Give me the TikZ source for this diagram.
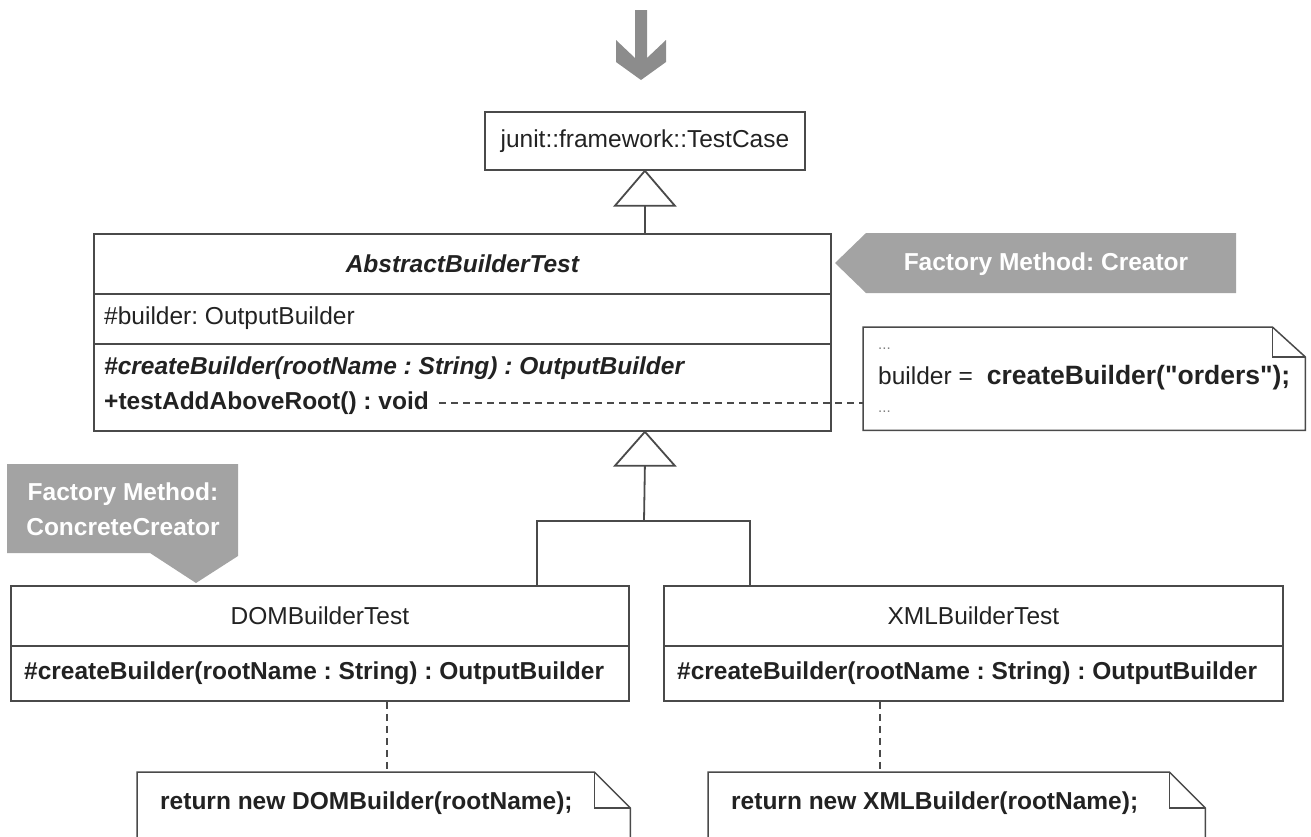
\documentclass[tikz,border=0pt]{standalone}
\usepackage{fontspec}
\setmainfont{Liberation Sans}
\newfontfamily\plainq{Liberation Sans}[Ligatures=TeXOff]
\usetikzlibrary{calc}
\definecolor{linec}{HTML}{4A4A4A}
\definecolor{tagc}{HTML}{A3A3A3}
\definecolor{arrc}{HTML}{8C8C8C}
\definecolor{txtc}{HTML}{222222}
\newcommand{\fsz}{\fontsize{24.5}{29}\selectfont}
\frenchspacing
\begin{document}
\begin{tikzpicture}[x=1pt,y=-1pt,
  font=\fsz,
  comp/.style={draw=linec, line width=1.8pt, anchor=north west, inner sep=0pt},
  lbl/.style={anchor=west, inner sep=0pt, text=txtc},
  ctr/.style={anchor=center, inner sep=0pt, text=txtc},
  gen/.style={draw=linec, line width=1.8pt},
  tagtxt/.style={text=white, font=\fsz\bfseries, align=center, inner sep=0pt},
  dashline/.style={draw=linec, line width=1.5pt, dash pattern=on 7pt off 5pt},
  notebox/.style={inner sep=0pt, anchor=north west},
  noteline/.style={draw=linec, line width=1.5pt, fill=white},
]
\useasboundingbox (0,0) rectangle (1311,836);
\clip (0,0) rectangle (1311,836);

% top arrow
\fill[arrc] (635,10) -- (647,10) -- (647,58) -- (666,40) -- (666,62) -- (641,80)
  -- (616,62) -- (616,40) -- (635,58) -- cycle;

% TestCase
\node[comp, minimum width=320pt, minimum height=58pt] (tc) at (484,111) {};
\node[ctr] (tct) at (tc.center) {junit::framework::TestCase};

% AbstractBuilderTest
\node[comp, minimum width=737pt, minimum height=60pt] (abt) at (93,233) {};
\node[comp, minimum width=737pt, minimum height=50pt] (abtA) at (93,293) {};
\node[comp, minimum width=737pt, minimum height=87pt] (abtM) at (93,343) {};
\node[ctr, font=\fsz\bfseries\itshape] (abtt) at (abt.center) {AbstractBuilderTest};
\node[lbl] (attr) at (104,318) {\#builder: OutputBuilder};
\node[lbl, font=\fsz\bfseries\itshape] (m1) at (104,368) {\#createBuilder(rootName : String) : OutputBuilder};
\node[lbl, font=\fsz\bfseries] (m2) at (104,403) {+testAddAboveRoot() : void};

% generalization 1
\draw[gen, fill=white] (tc.south) -- ++(30,35) -- ++(-60,0) -- cycle;
\draw[gen] ($(tc.south)+(0,35)$) -- (tc.south |- abt.north);

% Creator tag
\fill[tagc] (835,263) -- (866,233) -- (1236,233) -- (1236,293) -- (866,293) -- cycle;
\node[tagtxt] (tag1) at (1046,264) {Factory Method: Creator};

% note 1
\node[notebox, minimum width=442pt, minimum height=103pt] (n1) at (863,327) {};
\draw[noteline] (n1.north west) -- ($(n1.north east)+(-33,0)$) -- ($(n1.north east)+(0,30)$)
  -- (n1.south east) -- (n1.south west) -- cycle;
\draw[noteline, fill=none] ($(n1.north east)+(-33,0)$) -- ++(0,30) -- ++(33,0);
\node[lbl, text=gray, font=\fontsize{15}{17}\selectfont] (n1a) at (878,349) {...};
\node[lbl, font=\fsz\plainq] (n1b) at (878,378) {builder =\hspace{14pt}\fontsize{26.5}{30}\selectfont\bfseries createBuilder("orders");};
\node[lbl, text=gray, font=\fontsize{15}{17}\selectfont] (n1c) at (878,412) {...};
\draw[dashline] ($(m2.east)+(10,0)$) -- (m2.east -| n1.west);

% generalization 2
\coordinate (g2) at (tc.south |- abtM.south);
\draw[gen, fill=white] (g2) -- ++(30,34) -- ++(-60,0) -- cycle;
\coordinate (jn) at (644,521);
\coordinate (dj) at (537,521);
\coordinate (xj) at (750,521);
\draw[gen] ($(g2)+(0,34)$) -- (jn);

% DOMBuilderTest
\node[comp, minimum width=618pt, minimum height=60pt] (dom) at (10,585) {};
\node[comp, minimum width=618pt, minimum height=55pt] (domM) at (10,645) {};
\node[ctr] (domt) at (dom.center) {DOMBuilderTest};
\node[lbl, font=\fsz\bfseries] (domm) at (24,673) {\#createBuilder(rootName : String) : OutputBuilder};

% XMLBuilderTest
\node[comp, minimum width=619pt, minimum height=60pt] (xml) at (663,585) {};
\node[comp, minimum width=619pt, minimum height=55pt] (xmlM) at (663,645) {};
\node[ctr] (xmlt) at (xml.center) {XMLBuilderTest};
\node[lbl, font=\fsz\bfseries] (xmlm) at (677,673) {\#createBuilder(rootName : String) : OutputBuilder};

\draw[gen] (dom.north -| dj) -- (dj) -- (xj) -- (xml.north -| xj);

% ConcreteCreator tag
\fill[tagc] (7,464) -- (238,464) -- (238,556) -- (196,583) -- (150,553) -- (7,553) -- cycle;
\node[tagtxt, font=\fontsize{24.5}{35}\selectfont\bfseries] (tag2) at (123,509) {Factory Method:\\ConcreteCreator};

% note DOM
\node[notebox, minimum width=493pt, minimum height=100pt] (n2) at (137,772) {};
\draw[noteline] (n2.north west) -- ($(n2.north east)+(-36,0)$) -- ($(n2.north east)+(0,36)$)
  -- (n2.south east) -- (n2.south west) -- cycle;
\draw[noteline, fill=none] ($(n2.north east)+(-36,0)$) -- ++(0,36) -- ++(36,0);
\node[lbl, font=\fsz\bfseries] (n2t) at (160,803) {return new DOMBuilder(rootName);};
\coordinate (dd) at (387,0);
\draw[dashline] (domM.south -| dd) -- (n2.north -| dd);

% note XML
\node[notebox, minimum width=497pt, minimum height=100pt] (n3) at (708,772) {};
\draw[noteline] (n3.north west) -- ($(n3.north east)+(-36,0)$) -- ($(n3.north east)+(0,36)$)
  -- (n3.south east) -- (n3.south west) -- cycle;
\draw[noteline, fill=none] ($(n3.north east)+(-36,0)$) -- ++(0,36) -- ++(36,0);
\node[lbl, font=\fsz\bfseries] (n3t) at (731,803) {return new XMLBuilder(rootName);};
\coordinate (xd) at (880,0);
\draw[dashline] (xmlM.south -| xd) -- (n3.north -| xd);
\end{tikzpicture}
\end{document}
